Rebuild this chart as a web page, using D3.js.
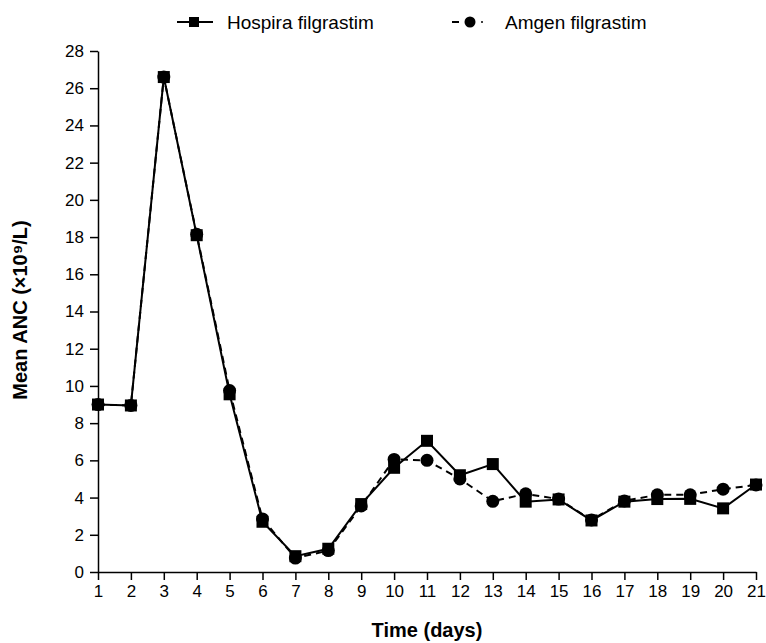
<!DOCTYPE html>
<html>
<head>
<meta charset="utf-8">
<script src="https://cdn.jsdelivr.net/npm/d3@7"></script>
<style>
	body { margin: 0; background: #fff; }
	text { font-family: "Liberation Sans", Arial, sans-serif; fill: #000; }
</style>
</head>
<body>
<script>
// Days on the x axis
const days = d3.range(1, 22);
const yTicks = d3.range(0, 29, 2);

// Mean ANC values
const hospira = [9.0, 8.95, 26.6, 18.1, 9.55, 2.7, 0.85, 1.25, 3.65, 5.6, 7.05,
	5.2, 5.8, 3.78, 3.9, 2.77, 3.78, 3.92, 3.93, 3.42, 4.7];
const amgen = [9.0, 8.95, 26.6, 18.15, 9.75, 2.85, 0.75, 1.15, 3.55, 6.05, 6.0,
	5.0, 3.8, 4.2, 3.92, 2.8, 3.82, 4.15, 4.15, 4.45, 4.68];

const width = 766, height = 643;
const margin = {top: 51, right: 10, bottom: 71, left: 98};

const svg = d3.select("body")
	.append("svg")
	.attr("width", width)
	.attr("height", height);

const x = d3.scaleLinear()
	.domain([1, 21])
	.range([margin.left, width - margin.right]);

const y = d3.scaleLinear()
	.domain([0, 28])
	.range([height - margin.bottom, margin.top]);

// Axes
const xAxis = svg.append("g")
	.attr("transform", `translate(0,${height - margin.bottom})`)
	.call(d3.axisBottom(x).tickValues(days).tickSize(8).tickSizeOuter(0).tickPadding(5));

const yAxis = svg.append("g")
	.attr("transform", `translate(${margin.left},0)`)
	.call(d3.axisLeft(y).tickValues(yTicks).tickSize(8).tickSizeOuter(0).tickPadding(6));

[xAxis, yAxis].forEach(function(a) {
	a.selectAll("path, line").attr("stroke", "#000").attr("stroke-width", 1.5);
	a.selectAll("text").style("font-size", "17px").attr("fill", "#000");
});

// Axis titles
svg.append("text")
	.attr("x", (margin.left + width - margin.right) / 2)
	.attr("y", 637)
	.attr("text-anchor", "middle")
	.style("font-size", "20px")
	.style("font-weight", "bold")
	.text("Time (days)");

svg.append("text")
	.attr("transform", "translate(27,310) rotate(-90)")
	.attr("text-anchor", "middle")
	.style("font-size", "20px")
	.style("font-weight", "bold")
	.text("Mean ANC (\u00d710\u2079/L)");

const line = d3.line()
	.x(function(d, i) {return x(days[i]);})
	.y(function(d) {return y(d);});

// Amgen series (dashed, circles)
svg.append("path")
	.datum(amgen)
	.attr("d", line)
	.attr("fill", "none")
	.attr("stroke", "#000")
	.attr("stroke-width", 2)
	.attr("stroke-dasharray", "7,5");

svg.selectAll("circle.amgen")
	.data(amgen)
	.enter()
	.append("circle")
	.attr("class", "amgen")
	.attr("cx", function(d, i) {return x(days[i]);})
	.attr("cy", function(d) {return y(d);})
	.attr("r", 6.5)
	.attr("fill", "#000");

// Hospira series (solid, squares)
svg.append("path")
	.datum(hospira)
	.attr("d", line)
	.attr("fill", "none")
	.attr("stroke", "#000")
	.attr("stroke-width", 2);

const sq = 12;
svg.selectAll("rect.hospira")
	.data(hospira)
	.enter()
	.append("rect")
	.attr("class", "hospira")
	.attr("x", function(d, i) {return x(days[i]) - sq / 2;})
	.attr("y", function(d) {return y(d) - sq / 2;})
	.attr("width", sq)
	.attr("height", sq)
	.attr("fill", "#000");

// Legend
const legend = svg.append("g");

legend.append("line")
	.attr("x1", 177).attr("x2", 213).attr("y1", 22).attr("y2", 22)
	.attr("stroke", "#000").attr("stroke-width", 2);
legend.append("rect")
	.attr("x", 189).attr("y", 17).attr("width", 10).attr("height", 10)
	.attr("fill", "#000");
legend.append("text")
	.attr("x", 227).attr("y", 29)
	.style("font-size", "19px")
	.text("Hospira filgrastim");

legend.append("line")
	.attr("x1", 452).attr("x2", 459).attr("y1", 22).attr("y2", 22)
	.attr("stroke", "#000").attr("stroke-width", 2);
legend.append("circle")
	.attr("cx", 470).attr("cy", 22).attr("r", 5.5)
	.attr("fill", "#000");
legend.append("line")
	.attr("x1", 481).attr("x2", 483).attr("y1", 22).attr("y2", 22)
	.attr("stroke", "#000").attr("stroke-width", 1.5);
legend.append("text")
	.attr("x", 505).attr("y", 29)
	.style("font-size", "19px")
	.text("Amgen filgrastim");
</script>
</body>
</html>
